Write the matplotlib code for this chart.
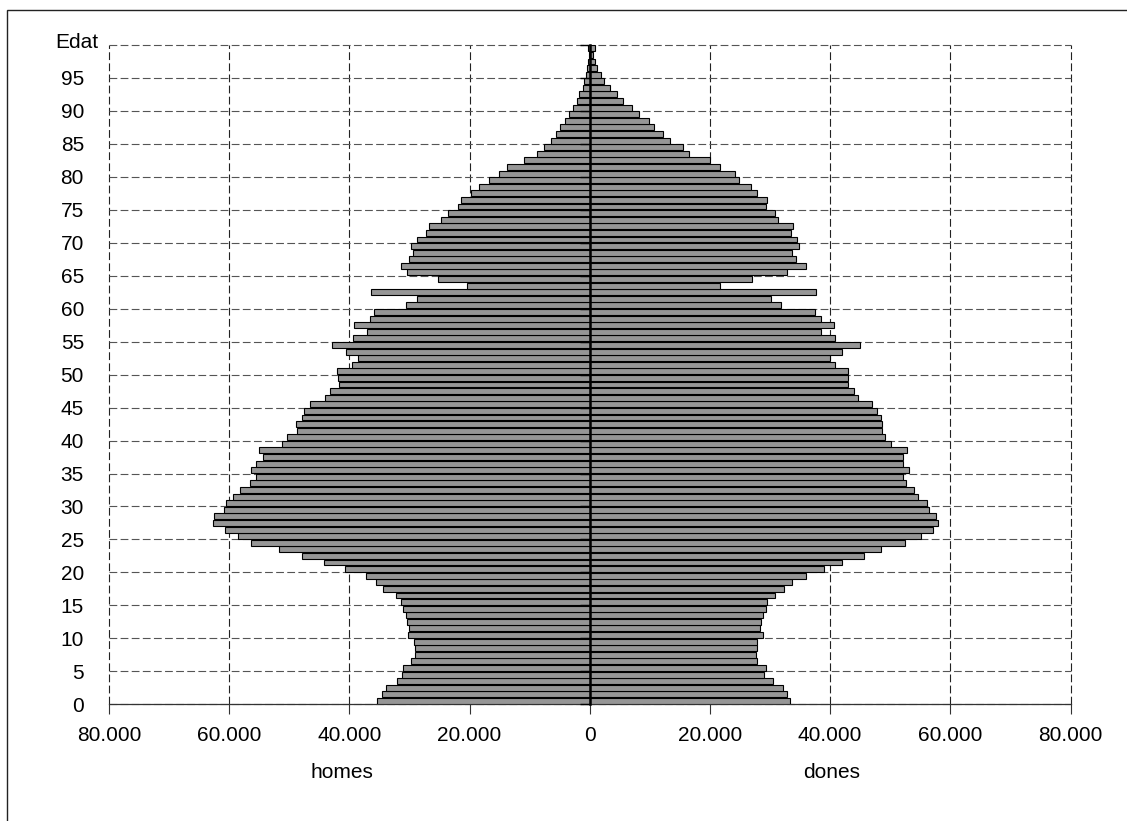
#population pyramid, homes / dones per edat
import matplotlib
matplotlib.use("Agg")
import matplotlib.pyplot as plt
from matplotlib.ticker import FuncFormatter
from matplotlib.patches import Rectangle

plt.rcParams['font.family'] = ['Liberation Sans', 'DejaVu Sans']

edat = list(range(100))

# thousands of people
homes = [35.4, 34.6, 33.9, 32.1, 31.3, 31.1, 29.8, 29.1, 29.1, 29.3,
         30.2, 30.1, 30.4, 30.5, 31.1, 31.4, 32.3, 34.4, 35.6, 37.3,
         40.7, 44.2, 47.8, 51.7, 56.4, 58.5, 60.7, 62.7, 62.5, 60.8,
         60.5, 59.3, 58.2, 56.6, 55.6, 56.3, 55.5, 54.4, 55.1, 51.2,
         50.4, 48.7, 48.8, 47.9, 47.6, 46.5, 44.0, 43.3, 41.8, 41.9,
         42.0, 39.5, 38.5, 40.6, 42.9, 39.4, 37.0, 39.3, 36.6, 35.9,
         30.5, 28.8, 36.4, 20.4, 25.2, 30.4, 31.4, 30.1, 29.4, 29.8,
         28.7, 27.3, 26.7, 24.7, 23.6, 21.9, 21.4, 19.7, 18.5, 16.8,
         15.1, 13.8, 10.9, 8.7, 7.6, 6.5, 5.7, 4.9, 4.1, 3.4,
         2.8, 2.1, 1.8, 1.2, 0.9, 0.6, 0.4, 0.3, 0.2, 0.3]

dones = [33.3, 32.9, 32.2, 30.5, 29.0, 29.3, 27.8, 27.6, 27.9, 27.9,
         28.9, 28.3, 28.5, 28.8, 29.4, 29.5, 30.8, 32.4, 33.7, 35.9,
         39.0, 41.9, 45.6, 48.5, 52.5, 55.2, 57.1, 58.0, 57.6, 56.5,
         56.1, 54.7, 54.0, 52.6, 52.2, 53.1, 52.2, 52.1, 52.8, 50.2,
         49.1, 48.6, 48.7, 48.5, 47.8, 47.0, 44.6, 43.9, 42.9, 42.9,
         42.9, 40.8, 39.9, 41.9, 44.9, 40.8, 38.5, 40.6, 38.5, 37.4,
         31.9, 30.1, 37.7, 21.7, 27.0, 32.8, 36.0, 34.3, 33.6, 34.9,
         34.5, 33.5, 33.9, 31.4, 30.9, 29.4, 29.5, 27.8, 26.8, 24.9,
         24.1, 21.6, 20.0, 16.5, 15.5, 13.4, 12.2, 10.7, 9.9, 8.2,
         7.0, 5.5, 4.5, 3.4, 2.4, 1.8, 1.2, 0.8, 0.55, 0.95]

xticks = [-80000, -60000, -40000, -20000, 0, 20000, 40000, 60000, 80000]
yticks = list(range(0, 100, 5))

fig = plt.figure(figsize=(11.27, 8.21), dpi=100)
ax = fig.add_axes([0.0967, 0.1422, 0.8532, 0.8030])

ypos = [e + 0.5 for e in edat]
ax.barh(ypos, [-h * 1000 for h in homes], height=0.9, color='#969696',
        edgecolor='black', linewidth=0.8, zorder=3)
ax.barh(ypos, [d * 1000 for d in dones], height=0.9, color='#969696',
        edgecolor='black', linewidth=0.8, zorder=3)

ax.set_xlim(-80000, 80000)
ax.set_ylim(0, 100)

ax.set_xticks(xticks)
ax.xaxis.set_major_formatter(FuncFormatter(lambda v, p: f"{abs(int(v)):,}".replace(',', '.')))
ax.set_yticks(yticks + [100])
ax.set_yticklabels([str(t) for t in yticks] + [''])

ax.tick_params(axis='x', direction='out', length=7, width=0.8, pad=9,
               labelsize=15, color='#333333')
ax.tick_params(axis='y', length=0, pad=18, labelsize=15)

for s in ['top', 'left', 'right']:
    ax.spines[s].set_visible(False)
ax.spines['bottom'].set_color('#333333')
ax.spines['bottom'].set_linewidth(0.9)

ax.grid(True, axis='x', linestyle=(0, (7, 3)), color='#222222', linewidth=0.8, zorder=1)
ax.grid(True, axis='y', linestyle=(0, (7, 3)), color='#555555', linewidth=0.8, zorder=1)
ax.set_axisbelow(True)
for gl in ax.get_xgridlines() + ax.get_ygridlines():
    gl.set_clip_on(False)

# central category axis with its tick marks, drawn over the bars
mid = ax.secondary_yaxis(0.5)
mid.set_zorder(5)
mid.set_yticks(yticks + [100])
mid.tick_params(direction='in', length=7, width=1.0, labelright=False,
                labelleft=False, color='black')
for s in mid.spines.values():
    s.set_linewidth(1.8)
    s.set_color('black')

fig.text(98 / 1127, 1 - 42 / 821, 'Edat', ha='right', va='center', fontsize=15)
fig.text(342 / 1127, 1 - 772 / 821, 'homes', ha='center', va='center', fontsize=15)
fig.text(832 / 1127, 1 - 772 / 821, 'dones', ha='center', va='center', fontsize=15)

# outer frame (left and top edge visible)
fig.patches.append(Rectangle((7 / 1127, -0.1), 1.2, 1.1 - 10 / 821,
                             transform=fig.transFigure, fill=False,
                             edgecolor='#222222', linewidth=1.0))

fig.savefig('out.png', dpi=100)
